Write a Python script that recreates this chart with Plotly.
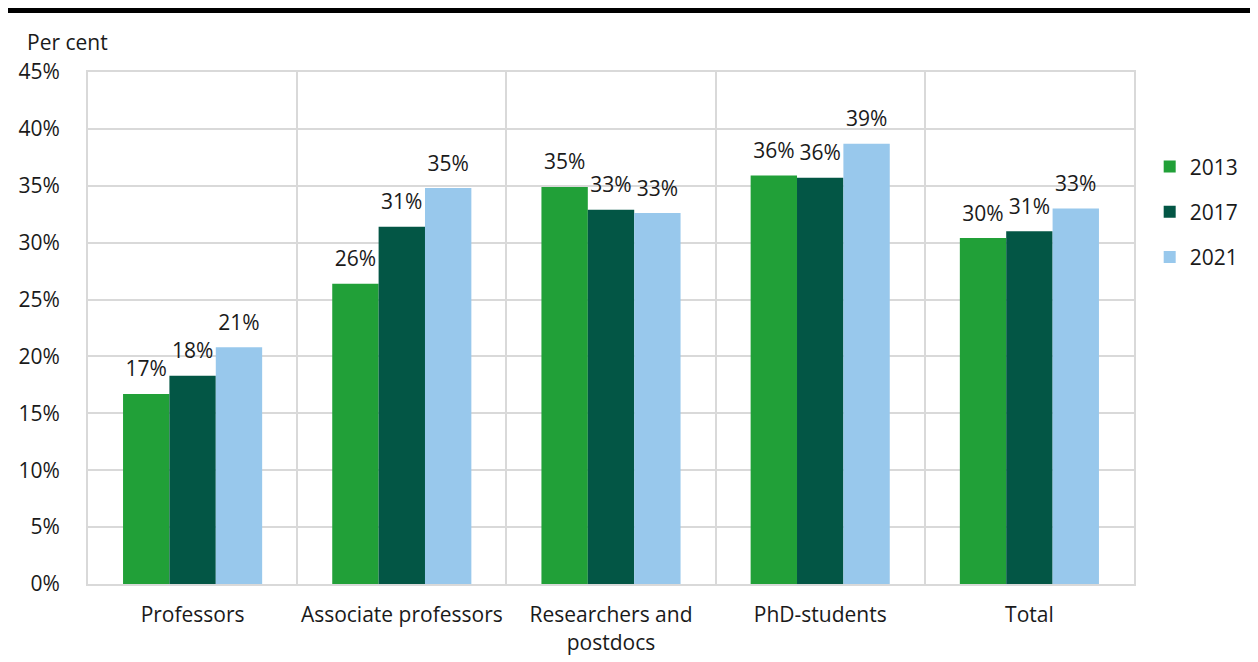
import plotly.graph_objects as go

categories = ["Professors", "Associate professors", "Researchers and<br>postdocs", "PhD-students", "Total"]
years = ["2013", "2017", "2021"]
v2013 = [16.7, 26.4, 34.9, 35.9, 30.4]
v2017 = [18.3, 31.4, 32.9, 35.7, 31.0]
v2021 = [20.8, 34.8, 32.6, 38.7, 33.0]
colors = ["#21a038", "#035645", "#98c8ec"]
y_ticks = [0, 5, 10, 15, 20, 25, 30, 35, 40, 45]

font = "Open Sans, Noto Sans, sans-serif"
FS = 21
GAP = 0.335
fig = go.Figure()
for name, vals, col in zip(years, [v2013, v2017, v2021], colors):
    fig.add_trace(go.Bar(
        x=categories, y=vals, name=name, marker=dict(color=col, line=dict(width=0)),
        legendgroup=name, offsetgroup=name,
    ))
for name, vals in zip(years, [v2013, v2017, v2021]):
    fig.add_trace(go.Scatter(
        x=categories, y=vals, mode="markers+text", showlegend=False, hoverinfo="skip",
        marker=dict(size=18, opacity=0), offsetgroup=name, legendgroup=name,
        text=[f"{round(v):.0f}%" for v in vals], textposition="top center",
        textfont=dict(size=FS, color="#1a1a1a", family=font), cliponaxis=False,
    ))

fig.update_layout(
    width=1250, height=654,
    margin=dict(l=80, r=124, t=64, b=78, autoexpand=False),
    paper_bgcolor="white", plot_bgcolor="white",
    barmode="group", bargap=GAP, bargroupgap=0,
    scattermode="group", scattergap=GAP,
    font=dict(family=font, size=FS, color="#1a1a1a"),
    showlegend=True,
    legend=dict(x=1.015, y=0.855, xanchor="left", yanchor="top", font=dict(size=FS),
                tracegroupgap=15, traceorder="grouped", itemwidth=30, bgcolor="rgba(0,0,0,0)"),
)
fig.update_xaxes(
    tickson="boundaries", showgrid=True, gridcolor="#d9d9d9", gridwidth=2,
    showline=True, linecolor="#d9d9d9", linewidth=2, mirror=True,
    ticks="", tickfont=dict(size=FS), ticklabelstandoff=11, tickangle=0, automargin=False,
)
fig.update_yaxes(
    range=[0, 45], tickvals=y_ticks, ticktext=[f"{t}%" for t in y_ticks],
    showgrid=True, gridcolor="#d9d9d9", gridwidth=2,
    showline=True, linecolor="#d9d9d9", linewidth=2, mirror=True,
    ticks="", tickfont=dict(size=FS), ticklabelstandoff=22, zeroline=False, automargin=False,
)
fig.add_annotation(text="Per cent", xref="paper", yref="paper", x=-0.06, y=1.0,
                   xanchor="left", yanchor="middle", yshift=30, showarrow=False,
                   font=dict(size=FS, family=font, color="#1a1a1a"))
fig.add_shape(type="line", xref="paper", yref="paper", x0=-0.08, x1=1.12, y0=1.12, y1=1.12,
              line=dict(color="black", width=5))
fig.write_html("out.html")
